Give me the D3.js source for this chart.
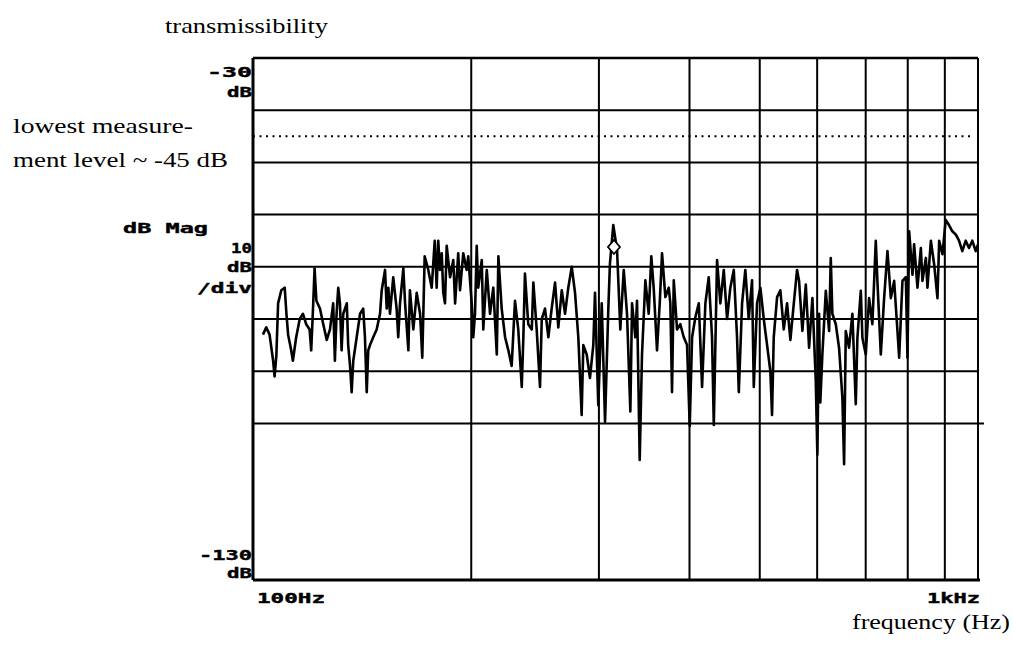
<!DOCTYPE html>
<html>
<head>
<meta charset="utf-8">
<style>
  body { margin: 0; background: #fff; }
  .hp { font-family: "DejaVu Sans Mono", monospace; font-weight: bold; font-size: 14px; fill: #000; stroke: #000; stroke-width: 0.4; }
  .note { font-family: "Liberation Serif", "Times New Roman", serif; font-size: 21px; fill: #000; }
</style>
</head>
<body>
<svg width="1014" height="648"></svg>
<script src="https://d3js.org/d3.v7.min.js"></script>
<script>

// frequency grid (Hz) and level grid (dB)
var freqGrid = [200, 300, 400, 500, 600, 700, 800, 900];
var dbGrid = [-40, -50, -60, -70, -80, -90, -100];
var floorDb = -45;   // lowest measurement level

// trace: frequency (Hz) / magnitude (dB)
var traceHz = [
  103.2, 104.3, 105.4, 106.6, 107.1, 107.7, 108.3, 109.4, 110.6, 111.2, 111.8, 112.9, 113.5, 114.7, 116.0, 117.2,
  118.4, 119.7, 120.3, 121.0, 121.6, 122.3, 123.7, 125.0, 126.4, 127.7, 129.0, 129.7, 130.4, 131.1, 131.8, 132.5,
  133.2, 134.7, 135.3, 136.1, 136.8, 137.5, 139.0, 140.5, 141.9, 142.7, 143.5, 144.2, 145.0, 146.5, 148.1, 149.7,
  150.5, 152.1, 152.9, 153.7, 154.5, 156.1, 157.8, 158.6, 159.5, 161.2, 162.1, 163.8, 164.6, 166.4, 168.2, 170.0,
  171.2, 172.5, 174.5, 176.4, 178.1,
  179.2, 180.1, 181.1, 182.1, 183.0, 184.0, 185.0, 187.0, 188.9, 190.0, 191.9, 193.0, 195.0, 197.1, 198.1, 200.3,
  201.3, 202.4, 203.5, 204.5, 206.8, 207.8, 210.1, 212.3, 214.5, 216.9, 218.0, 220.3, 222.7, 225.0, 227.4, 229.8,
  232.2, 234.8, 236.0, 237.2, 239.7, 242.4, 243.6, 246.2, 248.8, 250.2, 252.8, 255.5, 258.2, 261.0, 263.7, 266.6,
  269.4, 272.2, 275.2, 278.1, 281.0, 284.0, 285.5, 288.6, 291.6, 294.7, 296.3, 299.4, 302.7, 305.9, 309.1, 310.7,
  314.0,
  317.8, 321.1, 324.6, 328.0, 331.5, 333.3, 336.8, 338.6, 341.5, 344.0, 347.7, 351.4, 354.3, 357.0, 360.8, 363.9,
  366.6, 370.5, 374.5, 376.4, 378.4, 380.5, 384.5, 388.5, 392.8, 396.9, 400.3, 403.3, 407.5, 412.0, 416.3, 420.7,
  425.2, 429.7, 432.1, 436.6, 441.2, 446.0, 450.7, 455.4, 460.4, 465.2, 467.8, 472.7, 477.6, 482.8, 487.9, 490.6,
  495.7, 501.0, 506.4, 511.8, 517.1, 519.9, 522.7, 528.3, 533.8, 539.6, 545.3, 551.1, 557.1, 562.9,
  566.5, 572.5, 578.7, 584.8, 591.0, 597.4, 600.4, 603.7, 606.0, 610.0, 616.7, 623.2, 626.5, 629.7, 636.6, 643.2,
  650.0, 653.6, 657.1, 664.0, 671.0, 678.3, 681.8, 689.2, 692.7, 700.2, 707.6, 715.0, 722.8, 726.5, 734.4, 742.2,
  750.1, 758.2, 766.2, 774.3, 778.5, 786.7, 795.2, 799.3, 803.6, 812.1, 816.4, 825.1, 834.0, 838.3, 847.4, 851.7,
  861.0, 870.1, 879.2, 884.0, 893.3, 902.5, 912.0, 921.7, 931.7, 941.5, 951.4, 961.8, 971.8, 982.1, 992.8, 1000
];
var traceDb = [
  -83, -81.6, -83, -88, -91, -87, -77, -74.5, -74, -79, -83, -86, -88, -83.5, -80, -79,
  -81, -82, -86, -78, -70.3, -76.5, -78, -81, -84, -82, -77, -88, -79, -74, -77, -86,
  -79, -77, -85, -89, -94, -88, -83.5, -79, -78, -83.5, -94, -86, -85, -83.5, -82, -79,
  -74.5, -70.6, -78, -74, -79, -72, -78, -83.5, -77, -70.3, -77, -86, -74.5, -82, -75, -79,
  -87.4, -68, -70.6, -74, -65,
  -74, -65, -70.6, -67.4, -75, -77, -66, -72, -68.7, -77, -67.4, -74.5, -67.4, -70.6, -68, -77,
  -83.5, -79, -66, -74, -68.7, -82, -70.6, -79, -74, -86.8, -68, -78, -83.5, -86, -89, -76.5,
  -82, -93, -83.5, -71.3, -81, -82, -73, -82, -93, -80, -78, -83.5, -78, -73, -81.6, -74.5,
  -79, -74, -70, -75, -83.5, -98.4, -85, -86.8, -91.3, -85, -75, -96.5, -77, -99.7, -78, -69.4,
  -62,
  -66.8, -82, -70.6, -79, -97.7, -77, -83.5, -76.5, -107, -86.8, -72.6, -79, -68, -74, -86, -77,
  -67.4, -75.8, -74, -77, -94, -72.6, -82, -81, -83.5, -85, -100.5, -83.5, -79.7, -77, -93, -77,
  -72, -83.5, -100.3, -68.7, -77, -70.6, -80, -74, -70.6, -83.5, -94, -77, -70.6, -80, -72.6, -93,
  -77, -74, -80, -85, -90, -98.4, -83.5, -75.8, -74.5, -82, -77, -84, -77, -70.6,
  -72.7, -82.3, -73.4, -85.5, -76, -92, -106, -79, -96, -86.8, -74.6, -82.3, -68.3, -79, -81, -85.5,
  -95, -107.8, -82.3, -85.5, -79, -96.3, -83.6, -74.6, -83.6, -86.8, -76, -81, -65, -72.7, -86.8, -76,
  -67, -76, -72.7, -82.3, -87.4, -72.7, -72, -87.4, -63.2, -71.5, -65.7, -74, -66.4, -72.7, -68.3, -74,
  -65, -69.6, -76, -65, -67.6, -61, -62, -63.2, -63.8, -65, -67, -65, -66.4, -65, -67, -65.7
];

// analyzer marker
var markerHz = 314.7, markerDb = -66.2;

var svg = d3.select("svg");

var x = d3.scaleLog().domain([100, 1000]).range([253, 978]),
    y = d3.scaleLinear().domain([-30, -130]).range([58, 580]);

var trace = traceHz.map(function(f, i) { return {f: f, db: traceDb[i]}; });

// horizontal grid
svg.append("g")
  .selectAll("line")
  .data(dbGrid)
  .enter().append("line")
    .attr("x1", x(100)).attr("x2", function(d) { return d === -100 ? 984 : x(1000); })
    .attr("y1", function(d) { return y(d); }).attr("y2", function(d) { return y(d); })
    .attr("stroke", "#000").attr("stroke-width", 2);

// vertical grid
svg.append("g")
  .selectAll("line")
  .data(freqGrid)
  .enter().append("line")
    .attr("x1", function(d) { return x(d); }).attr("x2", function(d) { return x(d); })
    .attr("y1", y(-30)).attr("y2", y(-130))
    .attr("stroke", "#000").attr("stroke-width", 2);

// dotted floor line
svg.append("line")
    .attr("x1", x(100)).attr("x2", x(1000) - 5)
    .attr("y1", y(floorDb)).attr("y2", y(floorDb))
    .attr("stroke", "#000").attr("stroke-width", 2)
    .attr("stroke-dasharray", "2,4.5");

// frame
svg.append("line").attr("x1", x(100)).attr("x2", x(1000)).attr("y1", y(-30)).attr("y2", y(-30))
    .attr("stroke", "#000").attr("stroke-width", 2.5);
svg.append("line").attr("x1", x(100)).attr("x2", x(1000) + 2).attr("y1", y(-130)).attr("y2", y(-130))
    .attr("stroke", "#000").attr("stroke-width", 3);
svg.append("line").attr("x1", x(100)).attr("x2", x(100)).attr("y1", y(-30)).attr("y2", y(-130))
    .attr("stroke", "#000").attr("stroke-width", 3);
svg.append("line").attr("x1", x(1000)).attr("x2", x(1000)).attr("y1", y(-30)).attr("y2", y(-130))
    .attr("stroke", "#000").attr("stroke-width", 2);

// trace
var line = d3.line()
    .x(function(d) { return x(d.f); })
    .y(function(d) { return y(d.db); });

svg.append("path")
    .datum(trace)
    .attr("fill", "none")
    .attr("stroke", "#000")
    .attr("stroke-width", 2.6)
    .attr("stroke-linejoin", "round")
    .attr("d", line);

// marker
var mx = x(markerHz), my = y(markerDb);
svg.append("path")
    .attr("d", "M" + mx + "," + (my - 7) + "L" + (mx + 6) + "," + my + "L" + mx + "," + (my + 7) + "L" + (mx - 6) + "," + my + "Z")
    .attr("fill", "#fff")
    .attr("stroke", "#000")
    .attr("stroke-width", 1.8);

// analyzer labels
function hp(t, xx, yy, w, anchor) {
  svg.append("text").attr("class", "hp")
      .attr("x", xx).attr("y", yy)
      .attr("text-anchor", anchor || "start")
      .attr("textLength", w).attr("lengthAdjust", "spacingAndGlyphs")
      .text(t);
}
hp("-30", 252, 77, 45, "end");
hp("dB", 252, 97, 25, "end");
hp("dB Mag", 123, 233, 85);
hp("10", 252, 253, 21, "end");
hp("dB", 252, 272, 25, "end");
hp("/div", 252, 293, 55, "end");
hp("-130", 252, 560, 53, "end");
hp("dB", 252, 578, 25, "end");
hp("100Hz", 257, 603, 68);
hp("1kHz", 980, 603, 53, "end");

// notes
function note(t, xx, yy, w) {
  svg.append("text").attr("class", "note")
      .attr("x", xx).attr("y", yy)
      .attr("textLength", w).attr("lengthAdjust", "spacingAndGlyphs")
      .text(t);
}
note("transmissibility", 165, 33, 163);
note("lowest measure-", 13, 133, 180);
note("ment level ~ -45 dB", 13, 167, 215);
note("frequency (Hz)", 852, 629, 158);

</script>
</body>
</html>
